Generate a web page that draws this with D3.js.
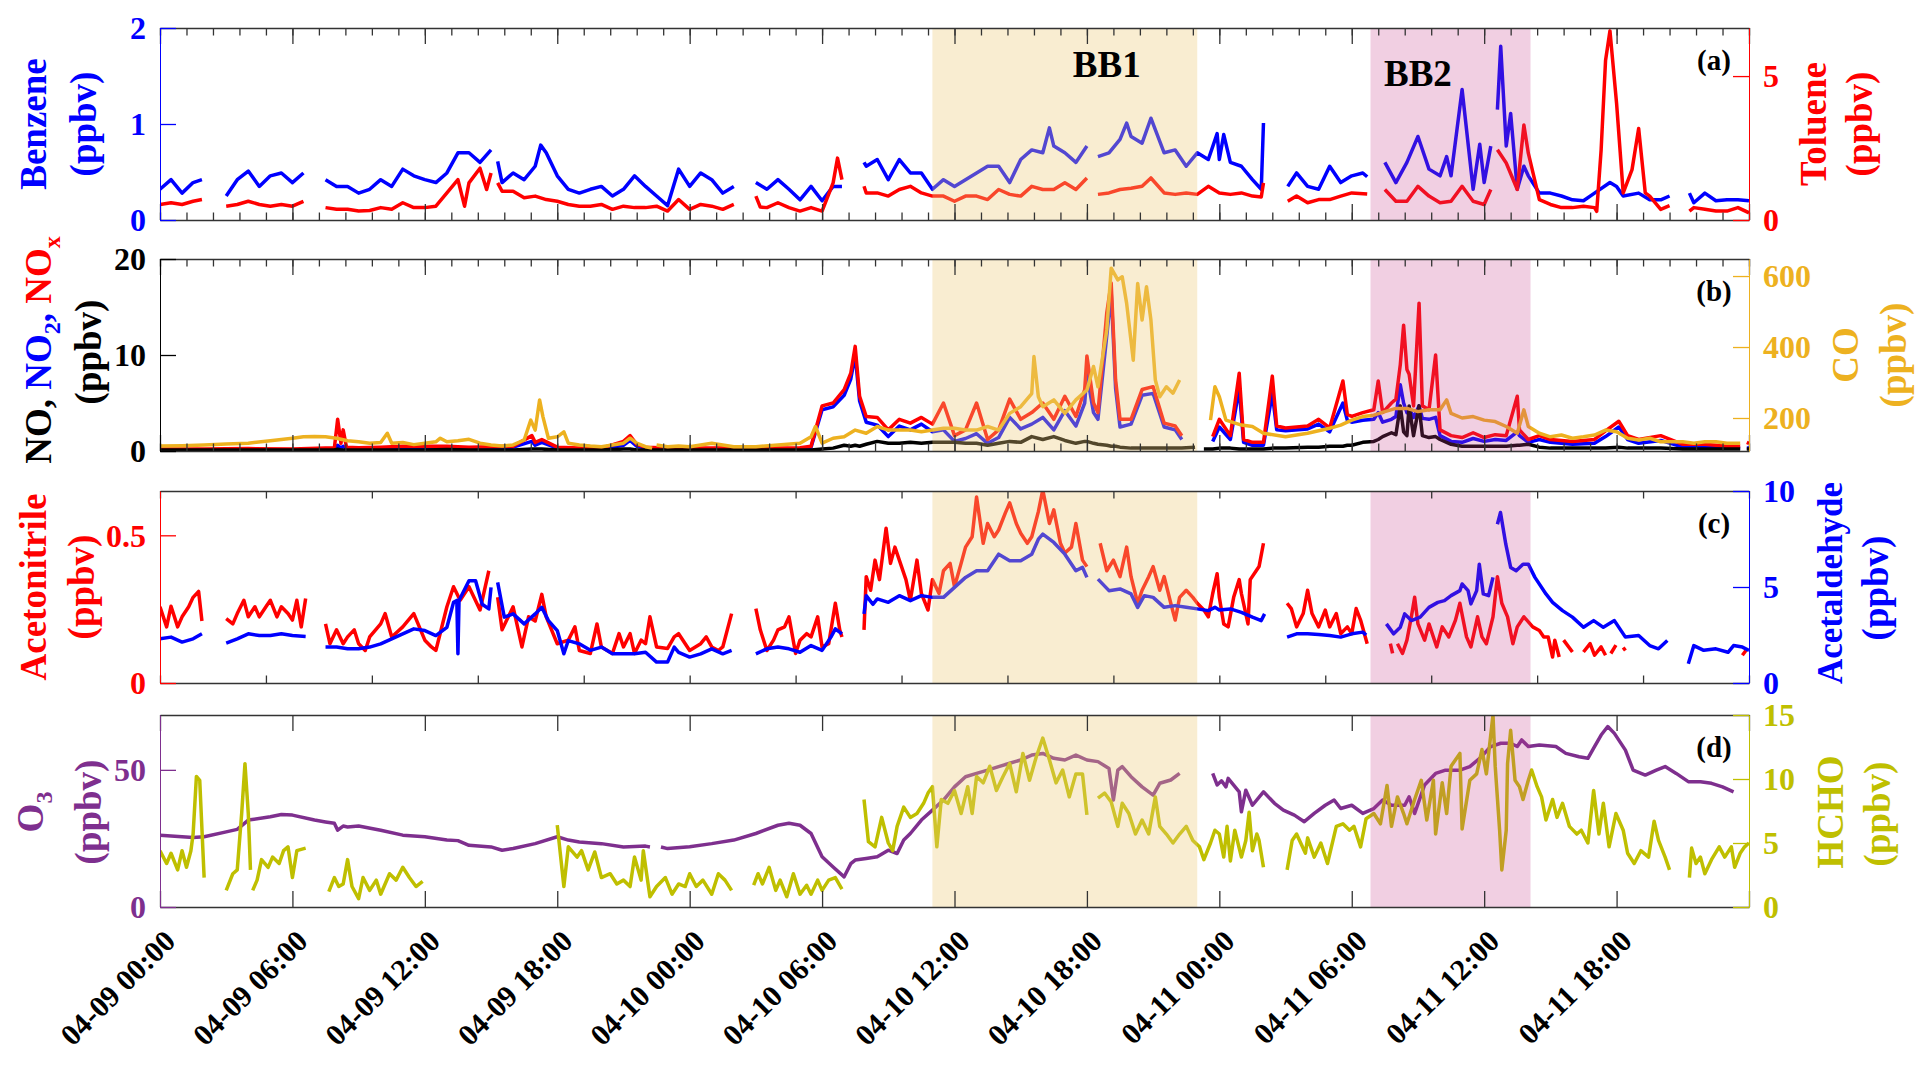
<!DOCTYPE html>
<html>
<head>
<meta charset="utf-8">
<script src="https://cdn.jsdelivr.net/npm/d3@7"></script>
<style>
  body { margin: 0; background: #fff; }
  svg { font-family: "Liberation Serif", "Times New Roman", serif; font-weight: bold; }
</style>
</head>
<body>
<svg id="chart" width="1922" height="1076"></svg>
<script>
// All times are hours since 04-09 00:00
var xTickHours = [0, 6, 12, 18, 24, 30, 36, 42, 48, 54, 60, 66];
var xTickLabels = ["04-09 00:00", "04-09 06:00", "04-09 12:00", "04-09 18:00",
                   "04-10 00:00", "04-10 06:00", "04-10 12:00", "04-10 18:00",
                   "04-11 00:00", "04-11 06:00", "04-11 12:00", "04-11 18:00"];

// Biomass burning episodes
var bbNames = ["BB1", "BB2"];
var bbStart = [35, 54.85];
var bbEnd = [47, 62.1];
var bbLabelHour = [42.9, 57.0];

// Panel (a): [hour, ppbv], null = no data
var benzene = [[0,.32],[.5,.42],[1,.28],[1.5,.39],[1.9,.42],[2.4,null],
  [3,.25],[3.5,.42],[4,.51],[4.5,.35],[5,.46],[5.5,.49],[6,.39],[6.5,.49],[7,null],
  [7.5,.42],[8,.35],[8.5,.35],[9,.28],[9.5,.32],[10,.42],[10.5,.35],[11,.53],[11.5,.46],[12,.42],[12.5,.39],[13,.49],[13.5,.70],[14,.70],[14.5,.6],[15,.73],[15.15,null],
  [15.3,.61],[15.5,.39],[16,.49],[16.5,.42],[17,.56],[17.25,.78],[17.5,.70],[18,.46],[18.5,.32],[19,.28],[19.5,.32],[20,.35],[20.5,.25],[21,.32],[21.5,.46],[22,.35],[22.5,.25],[23,.15],[23.5,.53],[24,.35],
  [24.5,.49],[25,.42],[25.5,.28],[26,.35],[26.5,null],
  [27,.39],[27.5,.32],[28,.42],[28.5,.32],[29,.21],[29.5,.35],[30,.2],[30.5,.35],[30.9,.35],[31.4,null],
  [31.9,.6],[32,.56],[32.5,.63],[33,.42],[33.5,.63],[34,.49],[34.5,.49],[35,.32],[35.5,.42],[36,.35],[36.5,.42],[37,.49],[37.5,.56],[38,.56],[38.5,.39],[39,.63],[39.5,.73],[40,.70],[40.3,.96],[40.5,.77],[41,.70],[41.5,.6],[42,.77],[42.25,null],
  [42.5,.66],[43,.70],[43.5,.84],[43.8,1.01],[44,.87],[44.5,.80],[44.9,1.06],[45.5,.70],[46,.73],[46.5,.56],[47,.70],[47.5,.63],[47.9,.9],[48,.63],
  [48.2,.89],[48.5,.6],[49,.56],[49.5,.42],[49.9,.32],[50,1.01],[50.5,null],
  [51.1,.35],[51.5,.49],[52,.35],[52.5,.32],[53,.56],[53.5,.39],[54,.46],[54.5,.49],[54.7,.45],[55.1,null],
  [55.5,.6],[56,.39],[56.5,.6],[57,.87],[57.5,.53],[58,.46],[58.3,.66],[58.5,.46],[59,1.36],[59.5,.32],[59.8,.79],[60,.39],[60.3,.77],[60.45,null],
  [60.6,1.15],[60.75,1.81],[61,.77],[61.2,1.11],[61.5,.32],[61.8,.56],[62,.46],[62.5,.28],[63,.28],[63.5,.25],[64,.21],[64.5,.2],[65,.28],[65.7,.39],[66,.35],[66.3,.25],[67,.28],[67.5,.21],[68,.21],[68.4,.25],[68.8,null],
  [69.3,.28],[69.5,.18],[70,.28],[70.5,.2],[71,.21],[71.5,.21],[72,.2]];

var toluene = [[0,.54],[.5,.6],[1,.54],[1.5,.65],[1.9,.71],[2.4,null],
  [3,.48],[3.5,.54],[4,.65],[4.5,.54],[5,.48],[5.5,.54],[6,.48],[6.5,.65],[7,null],
  [7.5,.43],[8,.37],[8.5,.37],[9,.31],[9.5,.33],[10,.43],[10.5,.37],[11,.6],[11.5,.43],[12,.43],[12.5,.48],[13,.94],[13.5,1.4],[13.8,.48],[14,1.29],[14.5,1.8],[14.8,1.06],[15,1.63],[15.15,null],
  [15.3,1.29],[15.5,1.0],[16,1.0],[16.5,.77],[17,.83],[17.5,.71],[18,.65],[18.5,.54],[19,.48],[19.5,.48],[20,.54],[20.5,.37],[21,.48],[21.5,.43],[22,.43],[22.5,.48],[23,.31],[23.5,.71],[24,.37],
  [24.5,.54],[25,.48],[25.5,.37],[26,.54],[26.5,null],
  [27,.83],[27.2,.45],[27.5,.43],[28,.6],[28.5,.43],[29,.31],[29.5,.43],[30,.31],[30.5,1.29],[30.7,2.15],[30.9,1.4],[31.4,null],
  [31.9,1.17],[32,.94],[32.5,.94],[33,.83],[33.5,1.06],[34,1.17],[34.5,.94],[35,.83],[35.5,.83],[36,.65],[36.5,.83],[37,.83],[37.5,.71],[38,1.06],[38.5,.89],[39,.83],[39.5,1.17],[40,1.06],[40.5,1.06],[41,1.29],[41.5,1.06],[42,1.46],[42.25,null],
  [42.5,.89],[43,.94],[43.5,1.06],[44,1.1],[44.5,1.17],[44.9,1.46],[45.5,.94],[46,.89],[46.5,.94],[47,.89],[47.5,1.17],[48,.94],
  [48.5,.89],[49,.94],[49.5,.83],[49.9,.8],[50,1.29],[50.5,null],
  [51.1,.65],[51.5,.83],[52,.6],[52.5,.71],[53,.71],[53.5,.83],[54,.94],[54.7,.9],[55.1,null],
  [55.5,1.06],[56,.65],[56.5,.65],[57,1.17],[57.5,.83],[58,.6],[58.5,.65],[59,1.17],[59.5,.65],[60,.54],[60.3,1.06],[60.45,null],
  [60.6,2.44],[61,1.98],[61.5,1.06],[61.8,3.3],[62,2.32],[62.5,.71],[63,.54],[63.5,.43],[64,.43],[64.5,.48],[65,.43],[65.1,.3],[65.3,2.44],[65.5,5.54],[65.7,6.57],[66,4.05],[66.3,.94],[66.7,1.75],[67,3.18],[67.3,.94],[67.5,.83],[68,.37],[68.4,.5],[68.8,null],
  [69.3,.31],[69.5,.43],[70,.37],[70.5,.31],[71,.31],[71.5,.43],[72,.25]];

// Panel (b): NO, NO2, NOx share one time base
var bHours = [0,2,4,6,7.5,7.9,8.05,8.2,8.3,8.45,
  9,10,11,12,13,14,15,16,16.85,17,
  17.3,18,19,20,21,21.3,21.6,22,23,24,
  25,26,27,28,29,29.5,30,30.5,31,31.3,
  31.5,31.7,32,32.5,33,33.5,34,34.5,35,35.5,
  36,36.5,37,37.5,38,38.5,39,39.5,40,40.5,
  41,41.5,41.9,42,42.3,42.5,42.9,43.1,43.3,43.5,
  44,44.5,45,45.5,46,46.3,46.9,47.1,47.3,47.7,
  48,48.5,48.9,49.1,49.5,50,50.4,50.6,51,52,
  52.5,53,53.6,53.8,54,54.5,55,55.2,55.4,55.8,
  56,56.2,56.35,56.5,56.6,56.8,57.05,57.2,57.5,57.8,
  58,58.5,59,59.5,60,60.5,61,61.5,61.6,62,
  62.5,63,64,65,65.5,66.1,66.5,67,68,69,
  70,71,71.6,71.7,71.9,72];
var noxVals = [.2,.2,.25,.2,.3,.3,3.3,.8,2.2,.4,
  .35,.4,.5,.5,.5,.4,.45,.5,1.6,.9,
  1.2,.4,.3,.3,1.0,1.6,.7,.4,.3,.3,
  .3,.35,.3,.3,.35,.5,4.7,5.0,6.4,8.1,
  10.9,5.7,3.6,3.5,2.2,3.3,2.9,3.5,2.8,5.0,
  1.6,2.2,5.0,1.2,2.2,5.4,3.3,4.0,5.0,3.3,
  5.7,3.6,6.4,9.9,5.0,4.0,14.4,17.5,7.4,3.3,
  3.3,6.4,6.7,2.9,2.6,1.6,null,null,null,1.5,
  3.3,1.6,8.1,1.2,.9,.9,7.8,2.6,2.4,2.6,
  3.3,2.4,7.3,3.8,3.6,4.0,4.3,7.3,4.0,5.0,
  5.4,9.0,13.1,8.5,8.0,4.7,15.4,4.7,4.3,10.0,
  2.2,1.6,1.4,1.9,1.4,1.7,1.6,5.7,2.2,1.2,
  1.6,1.2,1.0,1.2,2.1,3.1,1.6,1.2,1.6,.7,
  .7,.5,.5,null,.9,.8];
var no2Vals = [.1,.1,.1,.1,.15,.2,.6,.3,.5,.3,
  .2,.3,.4,.4,.3,.3,.3,.4,1.0,.6,
  .9,.3,.2,.2,.6,1.1,.5,.3,.2,.2,
  .2,.2,.2,.2,.25,.4,4.3,4.6,5.8,7.5,
  10.0,5.2,3.0,2.7,1.5,2.6,2.2,2.8,2.0,2.2,
  1.0,1.3,1.8,.8,1.4,3.5,2.3,2.8,3.5,2.2,
  4.2,2.6,5.0,8.0,4.0,3.3,12.0,16.5,6.5,2.5,
  2.8,5.8,6.0,2.5,2.2,1.2,null,null,null,1.0,
  2.5,1.2,6.5,.9,.6,.6,6.0,2.2,2.1,2.3,
  2.8,2.0,5.0,3.2,3.0,3.2,3.3,4.0,3.0,3.3,
  3.6,6.9,5.0,4.0,4.5,3.5,4.7,3.4,3.3,3.5,
  1.6,1.0,.9,1.3,1.0,1.2,1.1,2.0,1.6,.9,
  1.2,.9,.7,.8,1.5,2.5,1.2,.8,1.1,.4,
  .5,.3,.3,null,.3,.3];
var noVals = [.1,.1,.1,.1,.1,.1,.2,.1,.1,.1,
  .1,.1,.1,.1,.15,.1,.1,.1,.2,.2,
  .2,.1,.1,.1,.2,.2,.1,.1,.1,.1,
  .1,.1,.1,.1,.1,.1,.2,.3,.6,.5,
  .6,.5,.7,1.0,.8,.8,.9,.8,.9,.9,
  .9,.8,.8,.6,.8,1.0,.9,1.5,1.2,1.5,
  1.1,.8,1.0,1.0,.8,.7,.6,.5,.5,.4,
  .3,.3,.3,.3,.3,.3,.4,null,.2,.2,
  .3,.3,.2,.2,.2,.2,.3,.3,.3,.4,
  .4,.5,.5,.6,.6,.9,1.0,1.2,1.5,1.9,
  1.7,4.7,2.0,1.6,4.7,1.6,4.7,1.6,1.4,1.5,
  1.2,.7,.5,.5,.5,.5,.5,.6,.6,.7,
  .4,.3,.3,.3,.3,.4,.3,.3,.3,.2,
  .2,.2,.2,null,.2,.2];

var co = [[0,121],[1,122],[2,124],[3,127],[4,129],[5,136],[6,143],[6.5,147],[7,148],[7.5,147],[8,143],[8.5,136],[9,133],[9.5,129],[10,131],[10.3,157],[10.5,129],[11,131],[11.5,125],[12,129],[12.5,133],[12.7,143],[13,133],[13.5,136],[14,140],[14.5,129],[15,124],[15.5,121],[16,124],[16.5,138],[16.8,194],[17,166],[17.2,251],[17.35,204],[17.6,143],[18,147],[18.3,161],[18.5,129],[19,124],[19.5,121],[20,119],[21,129],[21.3,143],[21.6,129],[22,119],[22.3,115],[22.4,null],[22.5,124],[23,119],[23.5,121],
  [24,119],[25,129],[26,119],[27,119],[28,124],[29,129],[29.5,147],[29.7,176],[30,129],[30.5,143],[31,147],[31.5,166],[32,157],[32.5,176],[33,166],[33.5,166],[34,166],[34.5,161],[35,166],[35.5,171],[36,171],[36.5,166],[37,166],[37.5,176],[38,166],[38.5,213],[39,232],[39.5,269],[39.6,373],[39.8,260],[40,232],[40.5,251],[41,213],[41.5,251],[42,279],[42.3,345],[42.5,288],[42.9,448],[43.1,622],[43.4,589],[43.6,598],[43.8,523],[44.1,363],[44.3,579],[44.5,476],[44.7,570],[44.9,476],[45.1,307],[45.3,260],[45.6,288],[45.9,270],[46.2,307],[46.5,null],
  [47.6,194],[47.8,288],[48,260],[48.3,194],[49,180],[49.5,176],[50,157],[51,147],[52,157],[53,171],[53.5,180],[54,194],[54.5,204],[55,208],[55.5,218],[56,227],[56.5,227],[57,218],[57.5,223],[58,223],[58.3,251],[58.5,213],[59,200],[59.5,204],[60,194],[60.5,190],[61,176],[61.5,157],[61.8,223],[62,176],[62.5,157],[63,147],[63.5,152],[64,143],[64.5,147],[65,152],[65.5,166],[66,161],[66.5,143],[67,138],[67.5,143],[68,133],[68.5,133],[69,133],[69.5,129],[70,133],[70.5,133],[71,129],[71.6,129]];

// Panel (c)
var acetonitrile = [[0,.258],[.3,.19],[.5,.26],[.8,.19],[1,.224],[1.3,.258],[1.5,.29],[1.75,.31],[1.9,.21],[2.4,null],
  [3,.218],[3.3,.2],[3.5,.235],[3.8,.28],[4,.224],[4.3,.258],[4.5,.224],[4.8,.258],[5,.28],[5.3,.224],[5.5,.258],[5.8,.235],[6,.213],[6.2,.28],[6.4,.19],[6.6,.286],[7,null],
  [7.5,.2],[7.7,.133],[8,.18],[8.3,.133],[8.5,.156],[8.8,.18],[9,.133],[9.3,.11],[9.5,.156],[10,.2],[10.2,.235],[10.5,.156],[11,.19],[11.5,.235],[12,.145],[12.3,.122],[12.5,.11],[13,.258],[13.3,.326],[13.6,.28],[14,.326],[14.5,.247],[14.9,.38],[15.1,null],
  [15.3,.29],[15.5,.18],[16,.258],[16.4,.122],[16.7,.224],[17,.21],[17.3,.3],[17.5,.224],[18,.133],[18.5,.145],[18.8,.19],[19,.11],[19.5,.1],[19.8,.2],[20,.122],[20.5,.1],[20.8,.167],[21,.122],[21.3,.167],[21.5,.1],[21.8,.145],[22,.133],[22.2,.224],[22.5,.122],[23,.117],[23.3,.156],[23.5,.167],[24,.11],
  [24.5,.133],[24.75,.156],[25,.122],[25.3,.11],[25.5,.122],[25.9,.235],[26.4,null],
  [27,.252],[27.2,.18],[27.5,.11],[27.8,.145],[28,.18],[28.3,.19],[28.5,.224],[28.8,.1],[29,.145],[29.3,.167],[29.5,.156],[29.8,.224],[30,.122],[30.3,.133],[30.6,.27],[30.8,.18],[30.9,.156],[31.4,null],
  [31.9,.18],[32,.36],[32.2,.314],[32.4,.416],[32.6,.35],[32.9,.524],[33.1,.405],[33.3,.46],[33.5,.416],[33.8,.35],[34,.28],[34.3,.416],[34.5,.303],[34.8,.247],[35,.35],[35.3,.303],[35.5,.38],[35.8,.405],[36,.326],[36.3,.405],[36.5,.46],[36.8,.495],[37,.63],[37.3,.473],[37.5,.54],[37.8,.495],[38,.518],[38.3,.575],[38.5,.61],[38.8,.54],[39,.507],[39.3,.473],[39.5,.495],[39.8,.58],[40,.654],[40.3,.54],[40.5,.586],[40.8,.473],[41,.44],[41.3,.46],[41.5,.54],[41.8,.416],[42,.394],[42.3,null],
  [42.6,.473],[42.9,.38],[43.2,.416],[43.5,.36],[43.8,.46],[44,.36],[44.3,.27],[44.5,.314],[44.8,.36],[45,.394],[45.3,.314],[45.5,.36],[45.8,.27],[46,.213],[46.2,.29],[46.5,.314],[46.8,.29],[47,.27],[47.3,.247],[47.5,.224],[47.7,.303],[47.9,.37],[48,.29],
  [48.2,.2],[48.4,.19],[48.65,.29],[48.9,.35],[49,.303],[49.3,.2],[49.4,.35],[49.67,.38],[49.8,.394],[50,.473],[50.5,null],
  [51.07,.27],[51.26,.252],[51.5,.19],[51.8,.235],[52,.314],[52.2,.235],[52.5,.19],[52.8,.247],[53,.19],[53.3,.235],[53.5,.167],[53.8,.19],[54,.167],[54.2,.252],[54.4,.213],[54.7,.133],[55,null],
  [55.75,.133],[55.85,.1],[55.95,null],[56.07,.133],[56.3,.1],[56.5,.145],[56.7,.224],[56.85,.29],[57,.2],[57.3,.145],[57.5,.2],[57.85,.122],[58.1,.19],[58.4,.156],[58.7,.213],[58.9,.27],[59.2,.156],[59.4,.122],[59.7,.224],[59.9,.156],[60.1,.133],[60.4,.224],[60.6,.36],[60.8,.27],[61.06,.224],[61.3,.133],[61.5,.19],[61.8,.224],[62.2,.19],[62.5,.178],[62.7,.156],[62.9,.156],[63.1,.088],[63.2,.145],[63.4,.088],[63.5,null],
  [63.6,.145],[64,.105],[64.2,null],[64.5,.105],[64.8,.133],[65,.094],[65.3,.122],[65.5,.094],[65.6,null],[65.74,.1],[65.97,.128],[66.1,null],[66.3,.12],[66.4,.11],[66.5,null],
  [71.7,.094],[71.86,.11]];

var acetaldehyde = [[0,2.3],[.5,2.39],[1,2.13],[1.5,2.3],[1.9,2.56],[2.4,null],
  [3,2.08],[3.5,2.3],[4,2.56],[4.5,2.47],[5,2.47],[5.5,2.56],[6,2.47],[6.6,2.42],[7,null],
  [7.5,1.87],[8,1.87],[8.5,1.78],[9,1.78],[9.5,1.87],[10,2.04],[10.5,2.3],[11,2.56],[11.5,2.82],[12,2.73],[12.5,2.47],[13,2.9],[13.3,4.2],[13.45,4.3],[13.5,1.52],[13.55,4.3],[14,5.33],[14.3,5.33],[14.6,4.1],[14.9,3.86],[15,4.98],[15.15,null],
  [15.3,5.24],[15.6,3.43],[16,3.6],[16.5,3.08],[17,3.6],[17.3,3.94],[17.6,3.25],[18,2.73],[18.3,1.52],[18.5,2.21],[19,2.04],[19.5,1.7],[20,1.87],[20.5,1.52],[21,1.52],[21.5,1.52],[22,1.6],[22.5,1.09],[23,1.09],[23.3,1.87],[23.5,1.6],[24,1.35],
  [24.5,1.52],[25,1.78],[25.5,1.52],[25.9,1.7],[26.4,null],
  [27,1.52],[27.5,1.78],[28,1.87],[28.5,1.78],[29,1.6],[29.5,1.95],[30,1.7],[30.4,2.39],[30.6,2.82],[30.9,2.56],[31.4,null],
  [31.9,3.6],[32,4.55],[32.3,4.1],[32.5,4.38],[33,4.2],[33.5,4.55],[34,4.29],[34.5,4.55],[35,4.46],[35.5,4.46],[36,4.98],[36.5,5.5],[37,5.85],[37.5,5.85],[38,6.71],[38.5,6.37],[39,6.37],[39.5,6.71],[39.8,7.49],[40,7.75],[40.5,7.32],[41,6.71],[41.5,5.85],[41.8,6.02],[42,5.5],[42.3,null],
  [42.5,5.41],[43,4.81],[43.5,4.9],[44,4.64],[44.3,3.94],[44.6,4.55],[45,4.46],[45.5,3.94],[46,4.03],[46.5,3.94],[47,3.86],[47.5,3.77],[47.8,3.94],[48,3.8],
  [48.5,3.86],[49,3.68],[49.5,3.43],[49.9,3.25],[50.05,3.6],[50.5,null],
  [51.07,2.39],[51.5,2.56],[52,2.56],[52.5,2.53],[53,2.47],[53.5,2.39],[54,2.56],[54.5,2.65],[54.65,2.5],[55.1,null],
  [55.57,3.08],[55.9,2.56],[56.2,2.9],[56.4,3.6],[56.7,3.25],[57.1,3.43],[57.5,3.94],[57.9,4.2],[58.2,4.29],[58.5,4.55],[58.9,4.81],[59,5.16],[59.27,4.81],[59.4,4.12],[59.66,4.81],[59.78,6.19],[59.96,4.64],[60.2,4.55],[60.4,5.5],[60.5,null],
  [60.6,8.27],[60.74,8.88],[60.98,7.23],[61.2,6.02],[61.45,5.85],[61.76,6.19],[62,6.19],[62.3,5.5],[62.8,4.64],[63.1,4.2],[63.55,3.77],[64,3.43],[64.5,2.9],[64.96,3.25],[65.4,2.9],[65.9,3.25],[66.4,2.39],[67,2.47],[67.5,1.95],[67.9,1.78],[68.3,2.21],[68.8,null],
  [69.25,1.0],[69.5,1.95],[69.95,1.7],[70.5,1.78],[71.05,1.6],[71.3,1.95],[71.7,1.87],[72,1.7]];

// Panel (d)
var o3 = [[0,26.2],[1,25.6],[1.5,25.3],[2,25.6],[3,27.4],[3.5,28.3],[4,31.7],[5,32.9],[5.5,33.7],[6,33.5],[7,31.7],[7.5,31],[7.9,30.5],[8.05,28],[8.3,29.5],[8.5,29.2],[9,29.5],[10,28],[11,26.2],[12,25.6],[13,24.4],[13.5,24.2],[14,22.5],[15,21.9],[15.5,20.7],[16,21.3],[17,23.1],[18,25.6],[18.5,24.4],[19,23.7],[20,23.1],[21,21.9],[22,22.2],[22.2,21.9],[22.4,null],[22.7,21.9],[23,21.3],
  [24,22],[25,23.1],[26,24.4],[27,26.8],[28,29.8],[28.5,30.5],[29,29.8],[29.5,26.8],[30,18.3],[30.5,14.6],[31,11.0],[31.3,15.8],[31.5,17.1],[32,17.7],[32.5,18.3],[33,20.7],[33.4,19.5],[33.7,24.4],[34,26.8],[34.5,31.7],[35,35.3],[35.5,39],[36,43.8],[36.5,47.5],[37,48.7],[37.5,49.9],[38,51.2],[38.5,52.4],[39,53.6],[39.5,55.4],[40,56],[40.5,54.2],[41,53.6],[41.5,55.4],[42,53.6],[42.5,53],[43,50.5],[43.2,39],[43.4,49.9],[43.6,51.2],[44,47.5],[44.5,43.8],[45,40.8],[45.3,45.1],[45.8,46.3],[46.2,48.7],[46.5,null],
  [47.7,48.7],[47.9,44.5],[48.1,46],[48.3,43.8],[48.4,46.9],[48.9,42],[49,34.7],[49.2,42.6],[49.5,37.1],[50,42],[50.5,37.8],[50.9,35.3],[51.4,33.5],[51.85,31.1],[52.3,34.1],[52.8,37.1],[53.2,39],[53.5,35.9],[54,37.1],[54.5,34.1],[55,35.9],[55.4,39],[55.8,37.1],[56.4,37.1],[56.6,40.2],[56.85,34.1],[57.3,44.5],[57.8,48.7],[58.25,49.9],[58.9,49.9],[59.35,51.2],[59.8,54.2],[60.3,58.5],[60.75,59.7],[61.2,59.7],[61.5,58.5],[61.7,60.9],[62,58.5],[62.5,59.1],[63.25,58.5],[63.7,56],[64.3,54.8],[64.7,54.2],[65,58.5],[65.3,62.7],[65.6,65.8],[65.9,63.3],[66.4,57.2],[66.75,49.9],[67.3,48.1],[67.8,49.9],[68.2,51.2],[68.7,48.7],[69.25,45.7],[69.8,45.7],[70.3,45.1],[70.8,43.8],[71.3,42]];

var hcho = [[0,4.4],[.3,3.4],[.5,4.2],[.8,2.9],[1,4.4],[1.2,3.1],[1.4,4.4],[1.5,5.7],[1.65,10.2],[1.8,9.9],[2,2.3],[2.5,null],
  [3,1.3],[3.3,2.6],[3.5,2.9],[3.7,7.3],[3.85,11.2],[4,7.3],[4.1,2.9],[4.15,null],
  [4.2,1.3],[4.4,2.1],[4.6,3.7],[4.9,3.1],[5.1,3.9],[5.4,3.4],[5.6,4.4],[5.8,4.7],[6,2.3],[6.2,4.4],[6.6,4.6],[7,null],
  [7.65,1.2],[7.9,2.3],[8.1,1.6],[8.3,1.8],[8.5,3.7],[8.7,1.6],[9,.65],[9.2,2.3],[9.5,1.3],[9.8,2.1],[10,1.0],[10.4,2.6],[10.7,2.1],[11,3.1],[11.3,2.3],[11.6,1.6],[11.9,2.0],[12.3,null],
  [18,6.4],[18.3,1.6],[18.5,4.7],[18.9,3.9],[19.1,4.4],[19.4,2.9],[19.7,4.3],[20,2.3],[20.4,2.6],[20.7,1.8],[21,2.1],[21.3,1.6],[21.5,3.9],[21.8,2.1],[21.9,4.4],[22.2,.8],[22.5,1.6],[22.9,2.3],[23.2,1.0],[23.5,1.8],[23.8,1.6],[24,2.6],
  [24.3,1.6],[24.6,2.1],[25,1.0],[25.3,2.6],[25.6,2.1],[25.9,1.3],[26.4,null],
  [26.9,1.7],[27.1,2.6],[27.3,1.8],[27.6,3.1],[27.9,1.3],[28.1,2.1],[28.4,.8],[28.7,2.6],[29,1.0],[29.3,1.7],[29.5,1.0],[29.8,2.1],[30,1.3],[30.3,2.1],[30.6,2.3],[30.9,1.4],[31.4,null],
  [31.9,8.4],[32.1,5.1],[32.4,4.7],[32.7,7.0],[33,5.0],[33.2,4.4],[33.4,6.3],[33.7,7.8],[34,7.0],[34.3,7.3],[34.6,8.1],[34.8,8.9],[35,9.4],[35.2,4.7],[35.4,8.4],[35.7,8.1],[36,9.1],[36.3,7.3],[36.6,9.4],[36.8,7.3],[37,10.2],[37.3,9.7],[37.6,11.0],[37.9,9.1],[38.2,10.2],[38.5,11.2],[38.8,9.0],[39.1,12.0],[39.4,9.9],[39.7,11.7],[40,13.2],[40.3,11.5],[40.6,9.7],[40.9,10.7],[41.2,8.6],[41.5,10.4],[41.8,10.4],[42,7.2],[42.3,null],
  [42.5,8.5],[42.8,8.9],[43.1,8.2],[43.4,6.3],[43.6,8.1],[43.9,7.3],[44.2,5.7],[44.5,6.8],[44.8,5.7],[45.1,8.6],[45.3,6.3],[45.6,5.7],[45.9,5.0],[46.2,5.7],[46.5,6.3],[46.8,5.2],[47.1,4.7],[47.3,3.7],[47.6,5.0],[47.8,6.0],
  [48,5.7],[48.2,3.9],[48.35,6.3],[48.5,3.6],[48.7,6.0],[49,3.9],[49.2,5.2],[49.35,7.4],[49.5,4.4],[49.7,5.7],[49.8,5.2],[50,3.1],[50.5,null],
  [51.07,2.9],[51.3,5.2],[51.5,5.7],[51.9,4.2],[52,5.4],[52.3,3.9],[52.6,5.0],[52.9,3.4],[53.3,6.3],[53.6,6.5],[53.9,6.0],[54.1,6.3],[54.4,4.7],[54.65,6.9],[55,7.3],[55.3,6.5],[55.6,9.5],[55.8,6.3],[56.07,8.6],[56.35,7.3],[56.5,6.5],[56.85,8.4],[57.15,9.9],[57.4,6.8],[57.7,9.9],[57.8,5.7],[58.1,9.7],[58.3,7.3],[58.5,11.0],[58.9,12.0],[59,6.1],[59.35,9.9],[59.66,10.4],[59.9,12.3],[60.1,10.4],[60.4,15.0],[60.5,11.0],[60.7,6.0],[60.8,2.9],[61,6.0],[61.06,11.2],[61.2,13.8],[61.4,9.9],[61.6,9.4],[61.76,8.4],[62,9.9],[62.15,10.7],[62.4,9.4],[62.6,8.6],[62.8,6.8],[63.1,8.4],[63.3,7.0],[63.55,8.1],[63.86,6.3],[64.2,5.7],[64.4,6.0],[64.7,5.0],[64.96,9.1],[65.2,5.7],[65.4,8.1],[65.66,4.7],[65.97,7.3],[66.3,6.0],[66.5,4.2],[66.8,3.4],[67.1,4.4],[67.45,3.9],[67.7,6.7],[67.9,5.2],[68.2,3.9],[68.4,2.9],[68.8,null],
  [69.3,2.3],[69.4,4.6],[69.6,3.4],[69.8,3.9],[70,2.6],[70.3,3.7],[70.65,4.7],[70.9,3.9],[71.2,4.7],[71.35,3.1],[71.6,4.2],[71.8,4.7],[72,5.0]];

// ---------------------------------------------------------------
var svg = d3.select("#chart");
var plotLeft = 160, plotRight = 1749, panelH = 192;
var frameColor = "#333";
var x = d3.scaleLinear().domain([0, 72]).range([plotLeft, plotRight]);
var tickFmt = d3.format("~g");

// colours of the episode shading (drawn semi-transparent over the lines)
var bbFill = ["#eecb7a", "#c8408c"];
var bbAlpha = [0.35, 0.25];

function pairs(hours, vals) {
    return hours.map(function (h, i) { return [h, vals[i]]; });
}

var panels = [
    { name: "a", top: 28, letter: "(a)",
      left: { domain: [0, 2], ticks: [0, 1, 2], color: "#0000ff" },
      right: { domain: [0, 6.67], ticks: [0, 5], color: "#ff0000" },
      xMajor: d3.range(0, 72.01, 6), xMinor: d3.range(0, 72.01, 1.2),
      series: [ { data: benzene, axis: "L", color: "#0000ff" },
                { data: toluene, axis: "R", color: "#ff0000" } ] },
    { name: "b", top: 259, letter: "(b)",
      left: { domain: [0, 20], ticks: [0, 10, 20], color: "#000000" },
      right: { domain: [107, 648], ticks: [200, 400, 600], color: "#edb120" },
      xMajor: d3.range(0, 72.01, 6), xMinor: d3.range(0, 72.01, 1.2),
      series: [ { data: pairs(bHours, no2Vals), axis: "L", color: "#0000ff" },
                { data: pairs(bHours, noxVals), axis: "L", color: "#ff0000" },
                { data: pairs(bHours, noVals), axis: "L", color: "#000000" },
                { data: co, axis: "R", color: "#edb120" } ] },
    { name: "c", top: 491, letter: "(c)",
      left: { domain: [0, 0.65], ticks: [0, 0.5], color: "#ff0000" },
      right: { domain: [0, 10], ticks: [0, 5, 10], color: "#0000ff" },
      xMajor: [], xMinor: d3.range(0, 72.01, 4.8),
      series: [ { data: acetonitrile, axis: "L", color: "#ff0000" },
                { data: acetaldehyde, axis: "R", color: "#0000ff" } ] },
    { name: "d", top: 715, letter: "(d)",
      left: { domain: [0, 70], ticks: [0, 50], color: "#7e2f8e" },
      right: { domain: [0, 15], ticks: [0, 5, 10, 15], color: "#bfbf00" },
      xMajor: d3.range(0, 72.01, 6), xMinor: [],
      series: [ { data: o3, axis: "L", color: "#7e2f8e" },
                { data: hcho, axis: "R", color: "#bfbf00" } ] }
];

function styleAxis(sel, color, size) {
    sel.attr("color", color)
       .attr("font-family", "'Liberation Serif', 'Times New Roman', serif")
       .attr("font-weight", "bold")
       .attr("font-size", size);
    sel.selectAll("line").attr("stroke-width", 1.3);
}

function drawPanel(p) {
    var top = p.top, bottom = p.top + panelH;
    var yL = d3.scaleLinear().domain(p.left.domain).range([bottom, top]);
    var yR = d3.scaleLinear().domain(p.right.domain).range([bottom, top]);
    var g = svg.append("g");

    svg.append("clipPath").attr("id", "clip" + p.name)
        .append("rect").attr("x", plotLeft).attr("y", top)
        .attr("width", plotRight - plotLeft).attr("height", panelH);

    // data lines
    var lines = g.append("g").attr("clip-path", "url(#clip" + p.name + ")");
    p.series.forEach(function (s) {
        var y = s.axis == "L" ? yL : yR;
        var line = d3.line()
            .defined(function (d) { return d[1] != null; })
            .x(function (d) { return x(d[0]); })
            .y(function (d) { return y(d[1]); });
        lines.append("path").datum(s.data)
            .attr("d", line)
            .attr("fill", "none")
            .attr("stroke", s.color)
            .attr("stroke-width", 3.5)
            .attr("stroke-linejoin", "round");
    });

    // episode shading
    bbStart.forEach(function (s, i) {
        g.append("rect")
            .attr("x", x(s)).attr("y", top)
            .attr("width", x(bbEnd[i]) - x(s)).attr("height", panelH)
            .attr("fill", bbFill[i]).attr("fill-opacity", bbAlpha[i]);
    });

    // top and bottom frame with time ticks
    [[p.xMajor, 16], [p.xMinor, 7.5]].forEach(function (t, k) {
        var bot = g.append("g").attr("transform", "translate(0," + bottom + ")")
            .call(d3.axisBottom(x).tickValues(t[0]).tickSizeInner(-t[1]).tickSizeOuter(0).tickFormat(""));
        var tp = g.append("g").attr("transform", "translate(0," + top + ")")
            .call(d3.axisTop(x).tickValues(t[0]).tickSizeInner(-t[1]).tickSizeOuter(0).tickFormat(""));
        [bot, tp].forEach(function (a) {
            styleAxis(a, frameColor, 10);
            a.select(".domain").attr("stroke-width", k == 0 ? 1.6 : 0);
        });
    });

    // left and right value axes
    var la = g.append("g").attr("transform", "translate(" + plotLeft + ",0)")
        .call(d3.axisLeft(yL).tickValues(p.left.ticks).tickFormat(tickFmt)
              .tickSizeInner(-16).tickSizeOuter(0).tickPadding(14));
    styleAxis(la, p.left.color, 32);
    la.selectAll("text").attr("dy", "0.34em");

    var ra = g.append("g").attr("transform", "translate(" + plotRight + ",0)")
        .call(d3.axisRight(yR).tickValues(p.right.ticks).tickFormat(tickFmt)
              .tickSizeInner(-16).tickSizeOuter(0).tickPadding(14));
    styleAxis(ra, p.right.color, 32);
    ra.selectAll("text").attr("dy", "0.34em");

    // panel letter
    g.append("text").attr("x", 1714).attr("y", top + 42)
        .attr("text-anchor", "middle").attr("font-size", 29).text(p.letter);
}

panels.forEach(drawPanel);

// episode names in the top panel
bbNames.forEach(function (n, i) {
    svg.append("text").attr("x", x(bbLabelHour[i])).attr("y", i == 0 ? 77 : 86)
        .attr("text-anchor", "middle").attr("font-size", 37).text(n);
});

// rotated axis titles; parts: [text, colour, subscript?]
function vTitle(cx, cy, parts, size) {
    var t = svg.append("text")
        .attr("transform", "translate(" + cx + "," + cy + ") rotate(-90)")
        .attr("text-anchor", "middle").attr("dy", "0.35em").attr("font-size", size || 37);
    var shift = 0;
    parts.forEach(function (pt) {
        var s = t.append("tspan").attr("fill", pt[1]).text(pt[0]);
        if (pt[2]) {
            s.attr("font-size", 24).attr("dy", 9);
            shift = -9;
        } else if (shift) {
            s.attr("dy", shift);
            shift = 0;
        }
    });
}

vTitle(33, 124, [["Benzene", "#0000ff"]]);
vTitle(83, 124, [["(ppbv)", "#0000ff"]]);
vTitle(38, 350, [["NO, ", "#000"], ["NO", "#0000ff"], ["2", "#0000ff", true], [", ", "#0000ff"],
                 ["NO", "#ff0000"], ["x", "#ff0000", true]]);
vTitle(88, 352, [["(ppbv)", "#000"]]);
vTitle(33, 587, [["Acetonitrile", "#ff0000"]]);
vTitle(81, 587, [["(ppbv)", "#ff0000"]]);
vTitle(30, 812, [["O", "#7e2f8e"], ["3", "#7e2f8e", true]]);
vTitle(88, 812, [["(ppbv)", "#7e2f8e"]]);

vTitle(1813, 124, [["Toluene", "#ff0000"]]);
vTitle(1859, 124, [["(ppbv)", "#ff0000"]]);
vTitle(1845, 355, [["CO", "#edb120"]]);
vTitle(1893, 355, [["(ppbv)", "#edb120"]]);
vTitle(1830, 583, [["Acetaldehyde", "#0000ff"]], 35);
vTitle(1875, 588, [["(ppbv)", "#0000ff"]]);
vTitle(1830, 812, [["HCHO", "#bfbf00"]]);
vTitle(1877, 814, [["(ppbv)", "#bfbf00"]]);

// rotated date labels under the bottom panel
xTickHours.forEach(function (h, i) {
    svg.append("text")
        .attr("transform", "translate(" + (x(h) + 17) + ",943) rotate(-45)")
        .attr("text-anchor", "end").attr("font-size", 30)
        .text(xTickLabels[i]);
});
</script>
</body>
</html>
